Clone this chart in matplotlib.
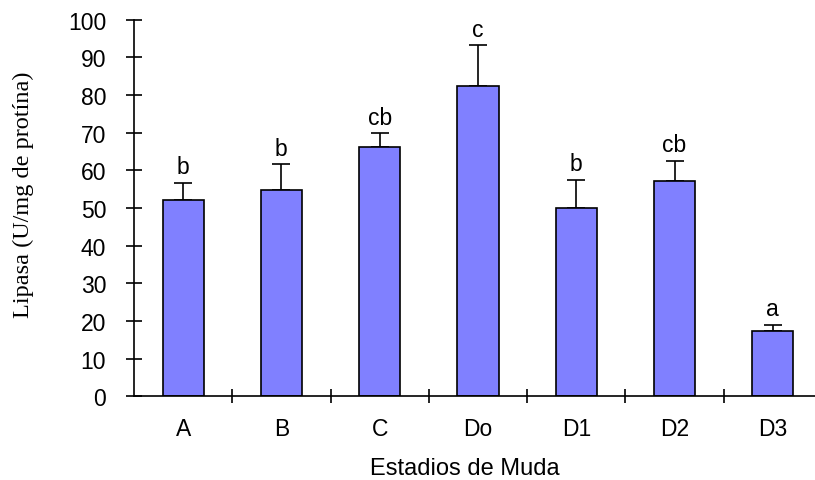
import matplotlib
matplotlib.use("Agg")
import matplotlib.pyplot as plt
import numpy as np

# Lipase activity by molt stage
stages = ["A", "B", "C", "Do", "D1", "D2", "D3"]
lipasa = [52.0, 54.7, 66.2, 82.3, 50.0, 57.3, 17.3]
error_sup = [4.7, 6.9, 3.6, 10.9, 7.4, 5.2, 1.6]
letras = ["b", "b", "cb", "c", "b", "cb", "a"]
yticks = [0, 10, 20, 30, 40, 50, 60, 70, 80, 90, 100]

W, H = 815, 481
fig = plt.figure(figsize=(W / 100, H / 100), dpi=100)
ax_left, ax_right = 134, 822
ax_top, ax_bottom = 20.7, 397.3
ax = fig.add_axes([ax_left / W, 1 - ax_bottom / H,
                   (ax_right - ax_left) / W, (ax_bottom - ax_top) / H])

x = np.arange(len(stages))
ax.bar(x, lipasa, width=0.42, color="#8080FF", edgecolor="black",
       linewidth=1.2, zorder=2)
ax.errorbar(x, lipasa, yerr=[np.zeros(len(x)), error_sup], fmt="none",
            ecolor="black", elinewidth=1.2, capsize=6.8, capthick=1.2,
            zorder=1)

for xi, v, e, t in zip(x, lipasa, error_sup, letras):
    ax.annotate(t, (xi, v + e), xytext=(0, 7), textcoords="offset points",
                ha="center", va="baseline", fontsize=16.5,
                family="Liberation Sans")

ax.set_xlim(-0.5, len(stages) - 0.5)
ax.set_ylim(0, 100)
ax.set_yticks(yticks)
ax.set_xticks(x)
ax.set_xticklabels(stages)
ax.set_xticks(np.arange(len(stages)) + 0.5, minor=True)

for s in ["top", "right"]:
    ax.spines[s].set_visible(False)
for s in ["left", "bottom"]:
    ax.spines[s].set_linewidth(1.2)

ax.tick_params(axis="y", which="major", direction="inout", length=11,
               width=1.2, pad=14.5, labelsize=16.5)
ax.tick_params(axis="x", which="major", length=0, pad=15, labelsize=16.5)
ax.tick_params(axis="x", which="minor", direction="inout", length=10,
               width=1.2)
for lab in ax.get_xticklabels() + ax.get_yticklabels():
    lab.set_family("Liberation Sans")

fig.text(23 / W, 1 - 195 / H, "Lipasa (U/mg de protína)", rotation=90,
         ha="center", va="center", family="Liberation Serif", fontsize=17.5)
fig.text(465 / W, 1 - 475 / H, "Estadios de Muda", ha="center",
         va="baseline", fontsize=17, family="Liberation Sans")

fig.savefig("out.png", dpi=100)
